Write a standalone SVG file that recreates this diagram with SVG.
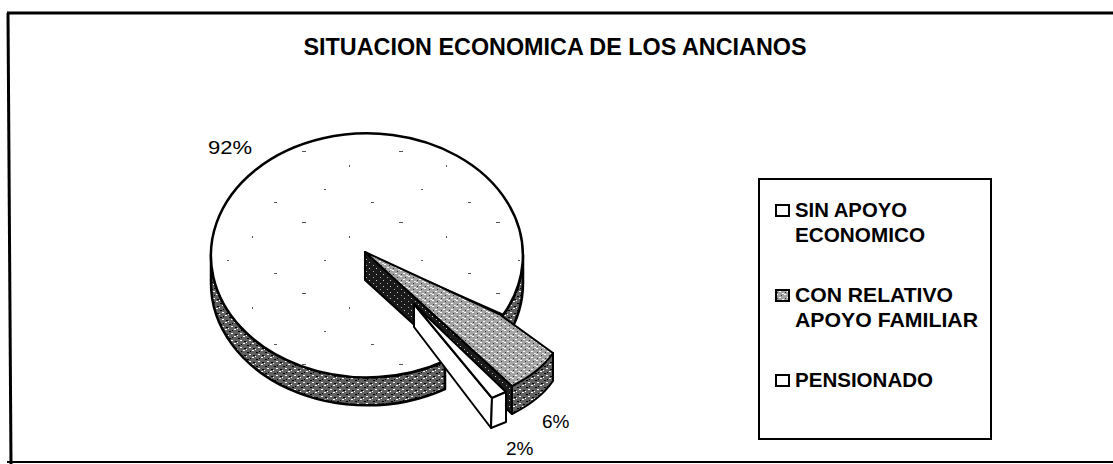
<svg xmlns="http://www.w3.org/2000/svg" width="1113" height="464" viewBox="0 0 1113 464">
<style>
text{font-family:"Liberation Sans",Arial,sans-serif;fill:#000}
.title{font-size:23px;font-weight:bold}
.leg{font-size:20.5px;font-weight:bold}
.pct{font-size:19px}
.ol{stroke:#000;stroke-width:2.5;stroke-linejoin:round}
.thin{stroke:#000;stroke-width:2;stroke-linejoin:round}
</style>
<defs>
<pattern id="stipDark" width="9" height="7" patternUnits="userSpaceOnUse">
<rect width="9" height="7" fill="#606060"/>
<rect x="0" y="0" width="2" height="1" fill="#fff"/>
<rect x="4" y="2" width="2" height="1" fill="#000"/>
<rect x="6" y="4" width="2" height="1" fill="#fff"/>
<rect x="1" y="5" width="2" height="1" fill="#000"/>
<rect x="7" y="1" width="1" height="1" fill="#000"/>
<rect x="3" y="6" width="1" height="1" fill="#fff"/>
</pattern>
<pattern id="stipMid" width="8" height="6" patternUnits="userSpaceOnUse">
<rect width="8" height="6" fill="#a4a4a4"/>
<rect x="0" y="0" width="2" height="1" fill="#fff"/>
<rect x="5" y="1" width="1" height="1" fill="#333"/>
<rect x="3" y="3" width="2" height="1" fill="#fff"/>
<rect x="1" y="4" width="1" height="1" fill="#333"/>
<rect x="6" y="5" width="2" height="1" fill="#eee"/>
</pattern>
<pattern id="stipBlack" width="7" height="6" patternUnits="userSpaceOnUse">
<rect width="7" height="6" fill="#1a1a1a"/>
<rect x="2" y="1" width="1" height="1" fill="#aaa"/>
<rect x="5" y="4" width="1" height="1" fill="#ccc"/>
</pattern>
<pattern id="specks" width="97" height="71" patternUnits="userSpaceOnUse">
<rect width="97" height="71" fill="#fff"/>
<rect x="11" y="9" width="4" height="1" fill="#555"/>
<rect x="58" y="23" width="1" height="2" fill="#555"/>
<rect x="33" y="47" width="2" height="1" fill="#555"/>
<rect x="80" y="60" width="3" height="1" fill="#555"/>
</pattern>
</defs>

<g id="frame">
<line x1="7" y1="13" x2="1113" y2="13" stroke="#000" stroke-width="3"/>
<line x1="8" y1="13" x2="11" y2="464" stroke="#000" stroke-width="3"/>
<line x1="7" y1="462" x2="1113" y2="462" stroke="#000" stroke-width="2"/>
</g>

<g id="title">
<text class="title" x="555" y="55" text-anchor="middle" textLength="503" lengthAdjust="spacingAndGlyphs">SITUACION ECONOMICA DE LOS ANCIANOS</text>
</g>

<g id="slice-92">
<path class="ol" fill="url(#stipDark)" d="M211,255 L211,283 A156,122 0 0,0 445,389 L445,361 A156,122 0 0,1 211,255 Z"/>
<path class="ol" fill="url(#stipDark)" d="M523,255 L523,283 A156,122 0 0,1 503,343 L503,315 A156,122 0 0,0 523,255 Z"/>
<path class="ol" fill="url(#specks)" d="M367,255 L445,361 A156,122 0 1,1 503,315 Z"/>
</g>

<g id="slice-6">
<path class="thin" fill="url(#stipBlack)" d="M365,252 L512,386 L512,414 L365,280 Z"/>
<path class="thin" fill="url(#stipDark)" d="M553,353 Q540,372 512,386 L512,414 Q540,400 553,381 Z"/>
<path class="thin" fill="url(#stipMid)" d="M365,252 L499,314 L553,353 Q540,372 512,386 Z"/>
</g>

<g id="slice-2">
<path class="thin" fill="#fff" d="M414,304 L492,398 L491,428 L414,327 Z"/>
<path class="thin" fill="#fff" d="M414,304 L506,392 L492,398 Z"/>
<path class="thin" fill="#fff" d="M492,398 L506,392 L506,422 L491,428 Z"/>
</g>

<g id="labels">
<text class="pct" x="208" y="154" textLength="44" lengthAdjust="spacingAndGlyphs">92%</text>
<text class="pct" x="542" y="428">6%</text>
<text class="pct" x="506" y="455">2%</text>
</g>

<g id="legend">
<rect x="759" y="179" width="232" height="260" fill="#fff" stroke="#000" stroke-width="2"/>
<rect x="776" y="205" width="13" height="11" fill="#fff" stroke="#000" stroke-width="2"/>
<text class="leg" x="795" y="217" textLength="112" lengthAdjust="spacingAndGlyphs">SIN APOYO</text>
<text class="leg" x="795" y="242" textLength="130" lengthAdjust="spacingAndGlyphs">ECONOMICO</text>
<rect x="776" y="290" width="13" height="11" fill="url(#stipMid)" stroke="#000" stroke-width="2"/>
<text class="leg" x="795" y="302" textLength="158" lengthAdjust="spacingAndGlyphs">CON RELATIVO</text>
<text class="leg" x="795" y="327" textLength="183" lengthAdjust="spacingAndGlyphs">APOYO FAMILIAR</text>
<rect x="776" y="375" width="13" height="11" fill="#fff" stroke="#000" stroke-width="2"/>
<text class="leg" x="795" y="387" textLength="138" lengthAdjust="spacingAndGlyphs">PENSIONADO</text>
</g>
</svg>
